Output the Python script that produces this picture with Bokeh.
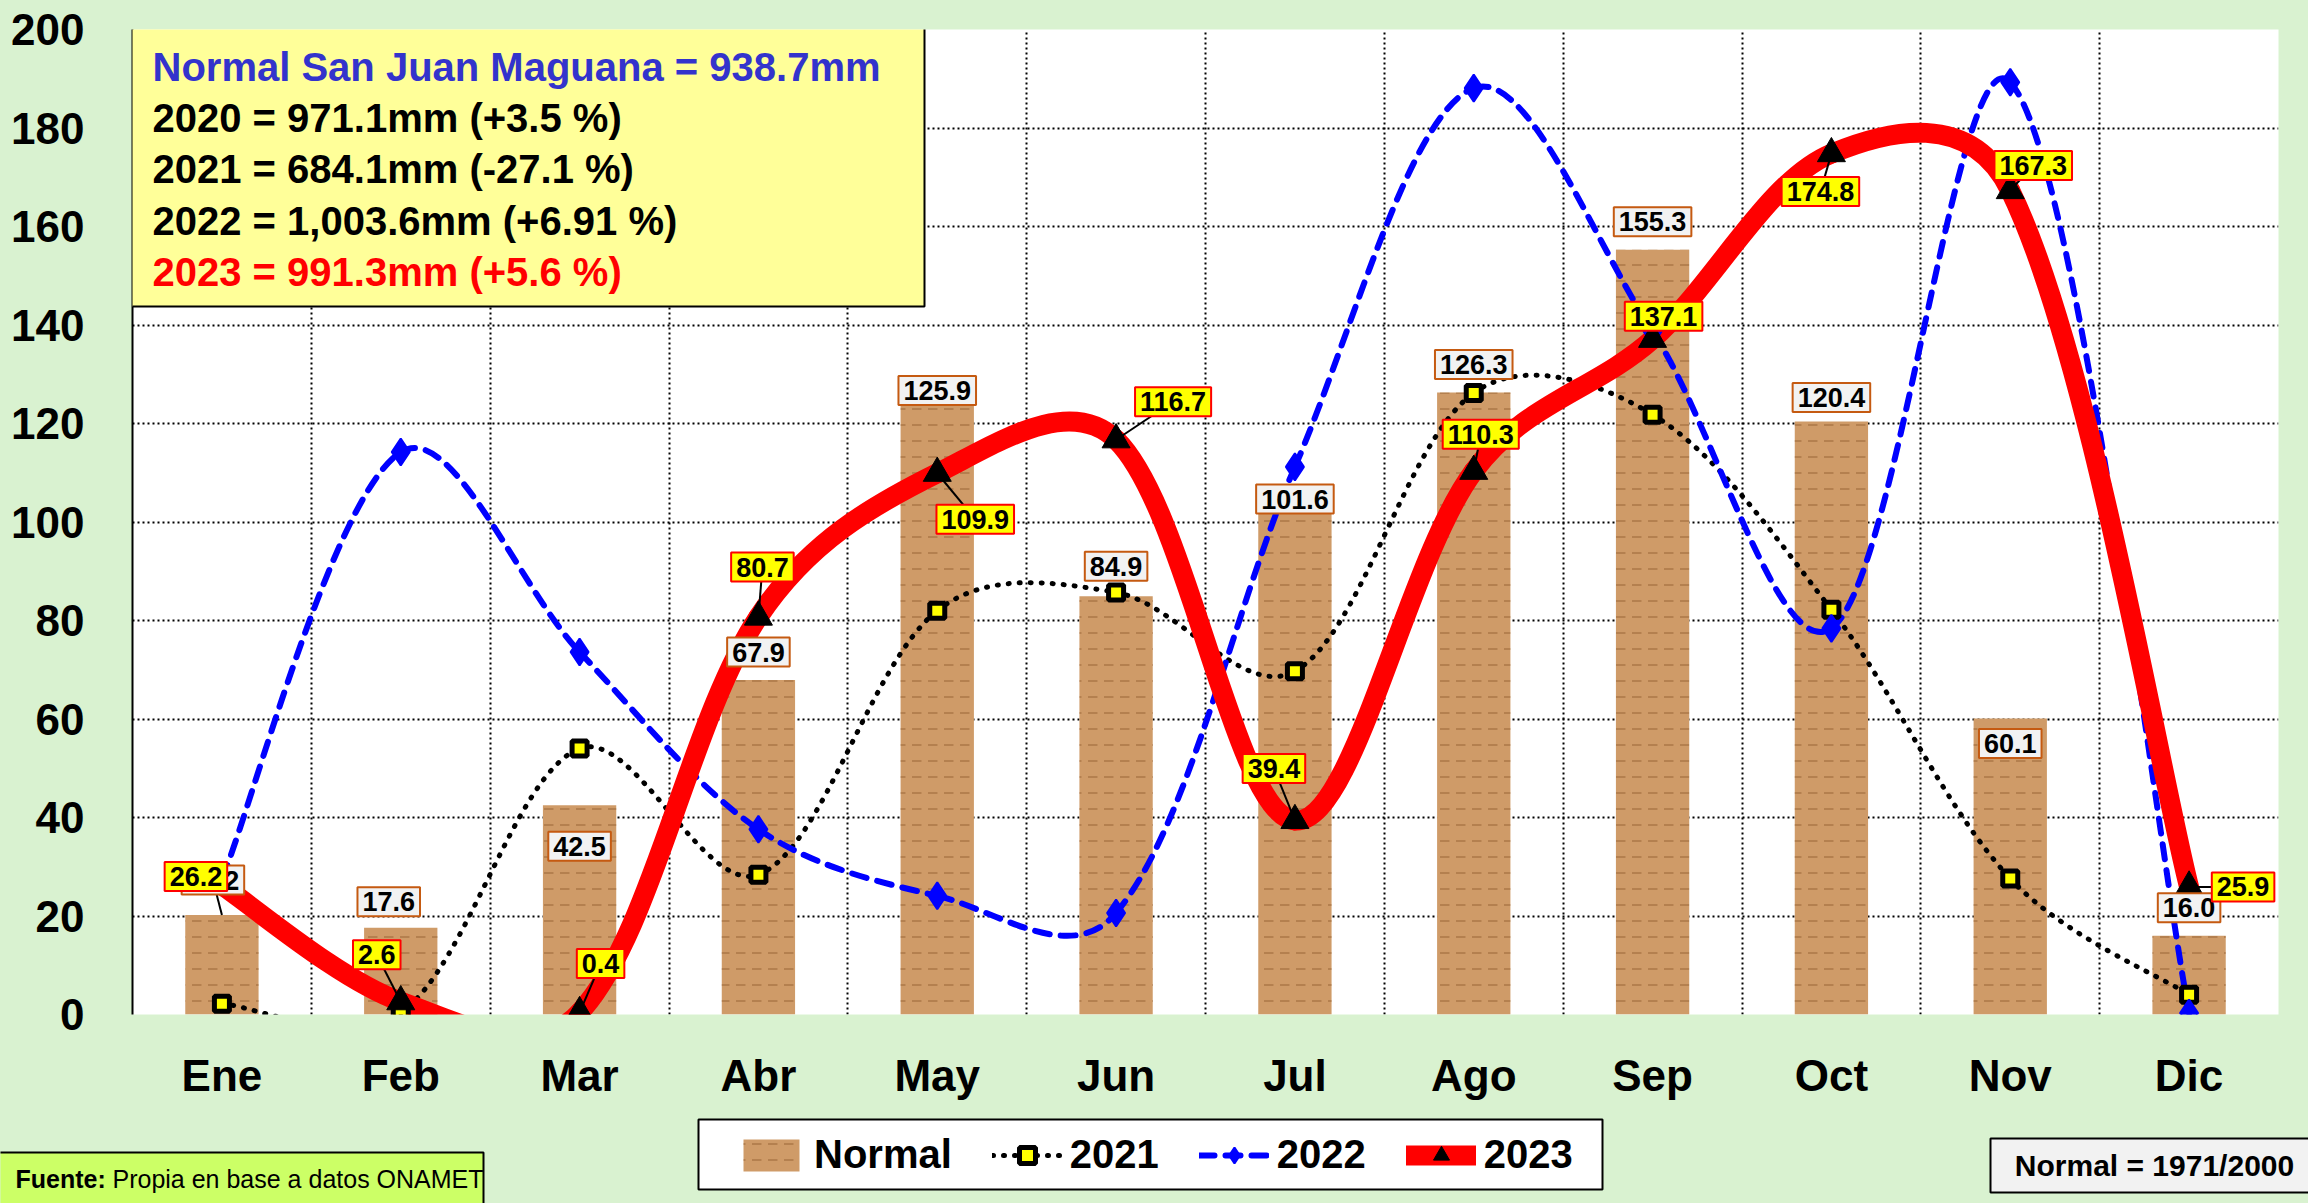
import math
from bokeh.plotting import figure
from bokeh.layouts import column
from bokeh.models import (ColumnDataSource, Label, Legend, LegendItem, FixedTicker,
                          BoxAnnotation, Range1d)
from bokeh.embed import file_html
from bokeh.resources import INLINE

# ---------------- data ----------------
months = ["Ene", "Feb", "Mar", "Abr", "May", "Jun", "Jul", "Ago", "Sep", "Oct", "Nov", "Dic"]
normal = [20.2, 17.6, 42.5, 67.9, 125.9, 84.9, 101.6, 126.3, 155.3, 120.4, 60.1, 16.0]
y2021 = [2.2, 0.3, 54.0, 28.4, 82.0, 85.7, 69.7, 126.2, 121.8, 82.2, 27.6, 4.0]
y2022 = [27.5, 114.2, 73.6, 37.6, 24.1, 20.6, 111.2, 188.1, 138.7, 78.4, 189.3, 0.3]
y2023 = [26.2, 2.6, 0.4, 80.7, 109.9, 116.7, 39.4, 110.3, 137.1, 174.8, 167.3, 25.9]
y_ticks = [0, 20, 40, 60, 80, 100, 120, 140, 160, 180, 200]
summary_lines = ["Normal San Juan Maguana = 938.7mm",
                 "2020 = 971.1mm (+3.5 %)",
                 "2021 = 684.1mm (-27.1 %)",
                 "2022 = 1,003.6mm (+6.91 %)",
                 "2023 = 991.3mm (+5.6 %)"]
legend_labels = ["Normal", "2021", "2022", "2023"]
source_text = ["Fuente:", "Propia en base a datos ONAMET"]
period_text = "Normal = 1971/2000"

# ---------------- layout / style ----------------
W, H = 2308, 1203
FL, FT, FR, FB = 132, 29, 2278, 1014        # frame edges in page px
FW, FH = FR - FL, FB - FT
MAIN_H = 1114
FOOT_H = H - MAIN_H
BG = "#D9F2D0"
FONT = "Liberation Sans"
WOOD = dict(fill_color="#CF9B68", hatch_pattern='"', hatch_color="#9A6535",
            hatch_alpha=0.5, hatch_scale=16, hatch_weight=2)

# label offsets in px (dx right, dy up) : layout only
off_normal = [(-9, 35), (-12, 26), (0, -41), (0, 28), (0, 4), (0, 30),
              (0, 15), (0, 28), (0, 28), (0, 24), (0, -25), (0, 28)]
off_2023 = [(-26, 9), (-24, 47), (21, 49), (4, 50), (38, -46), (57, 38),
            (-21, 52), (7, 37), (11, 23), (-11, -38), (23, 25), (54, 0)]

xs = [i + 0.5 for i in range(len(months))]
SX = FW / 12.0      # px per x unit
SY = FH / 200.0     # px per y unit


def cx(px):
    return (px - FL) / SX


def cy(py):
    return (FB - py) / SY


def smooth(xv, yv):
    n = len(xv)
    P = [(x * SX, y * SY) for x, y in zip(xv, yv)]

    def dist(a, b):
        return math.hypot(P[a][0] - P[b][0], P[a][1] - P[b][1])

    d = dict(x0=[], y0=[], x1=[], y1=[], cx0=[], cy0=[], cx1=[], cy1=[])
    for i in range(n - 1):
        a = i - 1 if i > 0 else i
        b = i + 2 if i + 2 < n else i + 1
        d12 = math.sqrt(dist(i, i + 1))
        f1 = 1 / 6 if a == i else 2 * d12 / (math.sqrt(dist(a, i)) + d12) / 6
        f2 = 1 / 6 if b == i + 1 else 2 * d12 / (math.sqrt(dist(i + 1, b)) + d12) / 6
        d["x0"].append(xv[i]); d["y0"].append(yv[i])
        d["x1"].append(xv[i + 1]); d["y1"].append(yv[i + 1])
        d["cx0"].append(xv[i] + (xv[i + 1] - xv[a]) * f1)
        d["cy0"].append(yv[i] + (yv[i + 1] - yv[a]) * f1)
        d["cx1"].append(xv[i + 1] - (xv[b] - xv[i]) * f2)
        d["cy1"].append(yv[i + 1] - (yv[b] - yv[i]) * f2)
    return ColumnDataSource(d)


p = figure(frame_width=FW, frame_height=FH, output_backend="svg", toolbar_location=None,
           x_range=Range1d(0, 12), y_range=Range1d(0, 200),
           min_border_left=FL, min_border_right=W - FR, min_border_top=FT,
           min_border_bottom=MAIN_H - FB,
           background_fill_color="white", border_fill_color=BG, outline_line_color=None)
p.frame_align = False

# axes
p.yaxis.ticker = FixedTicker(ticks=y_ticks)
p.yaxis.major_label_text_font = FONT
p.yaxis.major_label_text_font_style = "bold"
p.yaxis.major_label_text_font_size = "44px"
p.yaxis.major_label_text_color = "black"
p.yaxis.major_label_standoff = 42
p.yaxis.major_tick_line_color = None
p.yaxis.minor_tick_line_color = None
p.yaxis.axis_line_color = "black"
p.yaxis.axis_line_width = 2

p.xaxis.ticker = FixedTicker(ticks=xs)
p.xaxis.major_label_overrides = {x: m for x, m in zip(xs, months)}
p.xaxis.major_label_text_font = FONT
p.xaxis.major_label_text_font_style = "bold"
p.xaxis.major_label_text_font_size = "44px"
p.xaxis.major_label_text_color = "black"
p.xaxis.major_label_standoff = 30
p.xaxis.major_tick_line_color = None
p.xaxis.minor_tick_line_color = None
p.xaxis.axis_line_color = None

p.xgrid.ticker = FixedTicker(ticks=list(range(13)))
for g in (p.xgrid, p.ygrid):
    g.grid_line_color = "black"
    g.grid_line_width = 2
    g.grid_line_dash = "2 3"

# bars (wood look)
p.vbar(x=xs, top=normal, width=0.41, line_color=None, **WOOD)

# smooth lines
bz = dict(x0="x0", y0="y0", x1="x1", y1="y1", cx0="cx0", cy0="cy0", cx1="cx1", cy1="cy1")
S21 = dict(line_color="black", line_width=5, line_dash="1 10", line_cap="round")
S22 = dict(line_color="#0000FF", line_width=6, line_dash="15 11", line_cap="round")
S23 = dict(line_color="#FF0000", line_width=20, line_cap="round")
p.bezier(source=smooth(xs, y2021), **bz, **S21)
p.bezier(source=smooth(xs, y2022), **bz, **S22)
p.bezier(source=smooth(xs, y2023), **bz, **S23)

# leader lines
lx0, ly0, lx1, ly1 = [], [], [], []
for x, v, (ox, oy) in zip(xs, y2023, off_2023):
    lx0.append(x); ly0.append(v); lx1.append(x + ox / SX); ly1.append(v + oy / SY)
lx0.append(xs[0]); ly0.append(normal[0])
lx1.append(xs[0] + off_normal[0][0] / SX); ly1.append(normal[0] + off_normal[0][1] / SY)
p.segment(x0=lx0, y0=ly0, x1=lx1, y1=ly1, line_color="black", line_width=2)

# markers
M21 = dict(marker="square", size=15, fill_color="#FFFF00", line_color="black", line_width=5)
M22 = dict(marker="diamond", size=27, fill_color="#0000FF", line_color="#0000FF", line_width=2)
M23 = dict(marker="triangle", size=28, fill_color="black", line_color="black", line_width=1)
p.scatter(xs, y2021, **M21)
p.scatter(xs, y2022, **M22)
p.scatter(xs, y2023, **M23)

# data labels
for x, v, (ox, oy) in zip(xs, normal, off_normal):
    p.add_layout(Label(x=x, y=v, x_offset=ox, y_offset=oy, text=f"{v:.1f}",
                       text_align="center", text_baseline="middle",
                       text_font=FONT, text_font_style="bold", text_font_size="27px",
                       text_color="black", background_fill_color="#F2F2F2",
                       border_line_color="#C55A11", border_line_width=2, padding=5))
for x, v, (ox, oy) in zip(xs, y2023, off_2023):
    p.add_layout(Label(x=x, y=v, x_offset=ox, y_offset=oy, text=f"{v:.1f}",
                       text_align="center", text_baseline="middle",
                       text_font=FONT, text_font_style="bold", text_font_size="27px",
                       text_color="black", background_fill_color="#FFFF00",
                       border_line_color="#FF0000", border_line_width=2, padding=5))

# summary box
p.add_layout(BoxAnnotation(left=cx(130), right=cx(924), top=cy(20), bottom=cy(306),
                           fill_color="#FFFF99", fill_alpha=1.0,
                           line_color="black", line_width=2, line_alpha=1.0))
line_y = [66, 117, 168, 220, 271]
line_c = ["#3333CC", "black", "black", "black", "#FF0000"]
for t, yy, c in zip(summary_lines, line_y, line_c):
    p.add_layout(Label(x=cx(152), y=cy(yy), text=t, text_align="left", text_baseline="middle",
                       text_font=FONT, text_font_style="bold", text_font_size="40px",
                       text_color=c))

# ---------------- footer (legend + notes) ----------------
f = figure(width=W, height=FOOT_H, output_backend="svg", toolbar_location=None,
           x_range=Range1d(0, W), y_range=Range1d(FOOT_H, 0),
           x_axis_type=None, y_axis_type=None, min_border=0,
           background_fill_color=BG, border_fill_color=BG, outline_line_color=None)
f.frame_align = False


def fy(py):            # page px -> footer y
    return py - MAIN_H


# legend frame
f.quad(left=[698], right=[1602], top=[fy(1119)], bottom=[fy(1189)],
       fill_color="white", line_color="black", line_width=2)
OFF = [-1000, -990]     # legend-only glyphs, outside the visible range
r_n = f.vbar(x=OFF[:1], top=OFF[:1], width=1, line_color=None, **WOOD)
r21l = f.line(OFF, OFF, **S21)
r21m = f.scatter(OFF[:1], OFF[:1], **M21)
r22l = f.line(OFF, OFF, **S22)
r22m = f.scatter(OFF[:1], OFF[:1], **M22)
r23l = f.line(OFF, OFF, **S23)
r23m = f.scatter(OFF[:1], OFF[:1], **M23)
legend = Legend(items=[LegendItem(label=legend_labels[0], renderers=[r_n]),
                       LegendItem(label=legend_labels[1], renderers=[r21l, r21m]),
                       LegendItem(label=legend_labels[2], renderers=[r22l, r22m]),
                       LegendItem(label=legend_labels[3], renderers=[r23l, r23m])],
                orientation="horizontal", location=(736, FOOT_H - fy(1154) - 23),
                label_text_font=FONT, label_text_font_style="bold",
                label_text_font_size="40px", label_text_color="black",
                glyph_width=70, glyph_height=40, label_standoff=8, spacing=40,
                padding=0, margin=0, border_line_color=None,
                background_fill_alpha=0.0)
f.add_layout(legend, "center")

# source box
f.quad(left=[-4], right=[483], top=[fy(1152)], bottom=[fy(1210)],
       fill_color="#CCFF66", line_color="black", line_width=2)
f.add_layout(Label(x=15, y=fy(1178), text=source_text[0], text_align="left",
                   text_baseline="middle", text_font=FONT, text_font_style="bold",
                   text_font_size="25px", text_color="black"))
f.add_layout(Label(x=112, y=fy(1178), text=source_text[1], text_align="left",
                   text_baseline="middle", text_font=FONT,
                   text_font_size="25px", text_color="black"))

# normal period box
f.quad(left=[1990], right=[2312], top=[fy(1138)], bottom=[fy(1192)],
       fill_color="#F2F2F2", line_color="black", line_width=2)
f.add_layout(Label(x=2154, y=fy(1165), text=period_text, text_align="center",
                   text_baseline="middle", text_font=FONT, text_font_style="bold",
                   text_font_size="30px", text_color="black"))

layout = column(p, f, spacing=0)
html = file_html(layout, INLINE)
html = html.replace("</head>", "<style>html,body{background:%s;}</style></head>" % BG, 1)
open("out.html", "w").write(html)
